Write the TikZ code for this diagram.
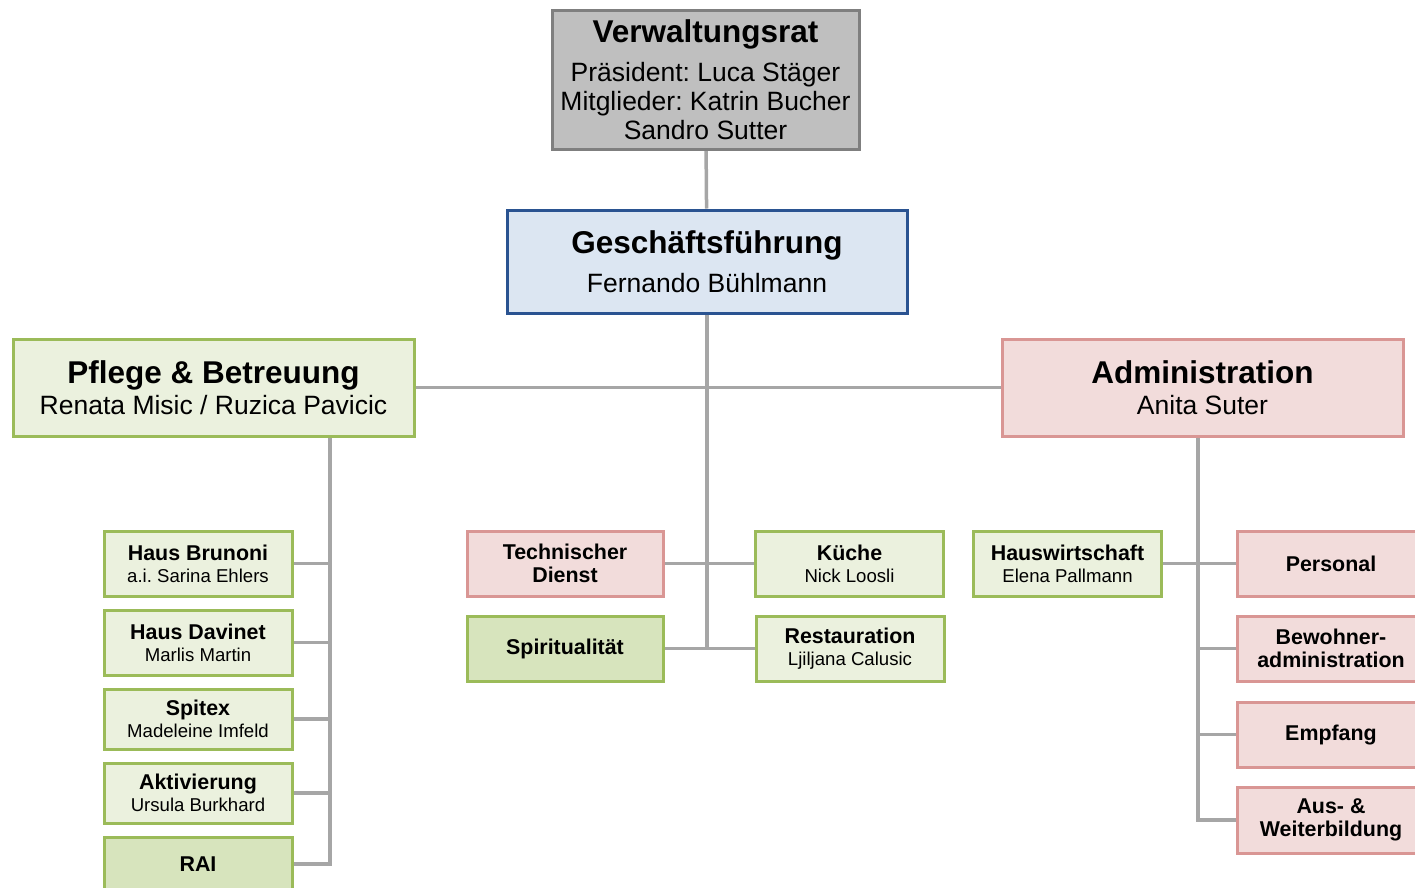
\documentclass[tikz,border=0pt]{standalone}
\usepackage{fontspec}
\setmainfont{Liberation Sans}
\frenchspacing
\pgfdeclarelayer{bg}
\pgfsetlayers{bg,main}
\definecolor{vrfill}{HTML}{BFBFBF}
\definecolor{vrdraw}{HTML}{7F7F7F}
\definecolor{gffill}{HTML}{DCE6F2}
\definecolor{gfdraw}{HTML}{2A5391}
\definecolor{grfill}{HTML}{EBF1DE}
\definecolor{grdark}{HTML}{D7E4BD}
\definecolor{grdraw}{HTML}{9BBB59}
\definecolor{rdfill}{HTML}{F2DCDB}
\definecolor{rddraw}{HTML}{D99694}
\definecolor{connline}{HTML}{A6A6A6}
\newcommand{\bigtitle}{\fontsize{31.5}{34}\selectfont\bfseries}
\newcommand{\smalltitle}{\fontsize{21.4}{23}\selectfont\bfseries}
\tikzset{
  unit/.style={rectangle, line width=3pt, inner sep=0pt, align=center},
  big/.style={unit, font=\fontsize{26.5}{29}\selectfont},
  small/.style={unit, font=\fontsize{18.6}{22}\selectfont, minimum width=188pt, minimum height=65pt},
  vrbox/.style={draw=vrdraw, fill=vrfill},
  gfbox/.style={draw=gfdraw, fill=gffill},
  greenbox/.style={draw=grdraw, fill=grfill},
  darkgreenbox/.style={draw=grdraw, fill=grdark},
  redbox/.style={draw=rddraw, fill=rdfill},
  conn/.style={draw=connline, line width=3.5pt}
}
\begin{document}
\begin{tikzpicture}[x=1pt,y=-1pt]
\useasboundingbox (0,0) rectangle (1415,887);

% top
\node[big,vrbox,minimum width=307pt,minimum height=139pt] (vr) at (705.5,79.5)
  {{\bigtitle Verwaltungsrat}\\[9.5pt]Präsident: Luca Stäger\\Mitglieder: Katrin Bucher\\Sandro Sutter};
\node[big,gfbox,minimum width=400pt,minimum height=103pt] (gf) at (707,261.5)
  {{\bigtitle Geschäftsführung}\\[9.5pt]Fernando Bühlmann};

% departments
\node[big,greenbox,minimum width=401pt,minimum height=97pt] (pb) at (213.5,387.5)
  {{\bigtitle Pflege \& Betreuung}\\[1.5pt]Renata Misic / Ruzica Pavicic};
\node[big,redbox,minimum width=401pt,minimum height=97pt] (adm) at (1202.5,387.5)
  {{\bigtitle Administration}\\[1.5pt]Anita Suter};

% Pflege
\node[small,greenbox] (hb) at (198,563.5) {{\smalltitle Haus Brunoni}\\a.i. Sarina Ehlers};
\node[small,greenbox] (hd) at (198,642.5) {{\smalltitle Haus Davinet}\\Marlis Martin};
\node[small,greenbox,minimum height=60pt] (spx) at (198,719) {{\smalltitle Spitex}\\Madeleine Imfeld};
\node[small,greenbox,minimum height=60pt] (akt) at (198,793) {{\smalltitle Aktivierung}\\Ursula Burkhard};
\node[small,darkgreenbox,font=\smalltitle,minimum height=54pt] (rai) at (198,864) {RAI};

% middle
\node[small,redbox,font=\smalltitle,minimum width=196pt] (td) at (565,563.5) {Technischer\\Dienst};
\node[small,darkgreenbox,font=\smalltitle,minimum width=196pt] (spi) at (565,648.5) {Spiritualität};
\node[small,greenbox] (ku) at (849.5,563.5) {{\smalltitle Küche}\\Nick Loosli};
\node[small,greenbox] (rest) at (850,648.5) {{\smalltitle Restauration}\\Ljiljana Calusic};

% Administration
\node[small,greenbox] (hw) at (1067.5,563.5) {{\smalltitle Hauswirtschaft}\\Elena Pallmann};
\node[small,redbox,font=\smalltitle] (pers) at (1331,563.5) {Personal};
\node[small,redbox,font=\smalltitle] (bew) at (1331,648.5) {Bewohner-\\administration};
\node[small,redbox,font=\smalltitle] (empf) at (1331,734.5) {Empfang};
\node[small,redbox,font=\smalltitle,minimum height=66pt] (ausw) at (1331,820) {Aus- \&\\Weiterbildung};

\coordinate (ptrunk) at (330,387.5);
\coordinate (atrunk) at (1198,387.5);

\begin{pgfonlayer}{bg}
\draw[conn] (vr) -- (gf);
\draw[conn] (pb) -- (adm);
\draw[conn] (gf) -- (gf |- spi);
\draw[conn] (td) -- (ku);
\draw[conn] (spi) -- (rest);
\draw[conn] (ptrunk) |- (rai);
\foreach \n in {hb,hd,spx,akt} {
  \draw[conn] (\n) -- (\n -| ptrunk);
}
\draw[conn] (atrunk) |- (ausw);
\draw[conn] (hw) -- (pers);
\foreach \n in {bew,empf} {
  \draw[conn] (\n) -- (\n -| atrunk);
}
\end{pgfonlayer}
\end{tikzpicture}
\end{document}
